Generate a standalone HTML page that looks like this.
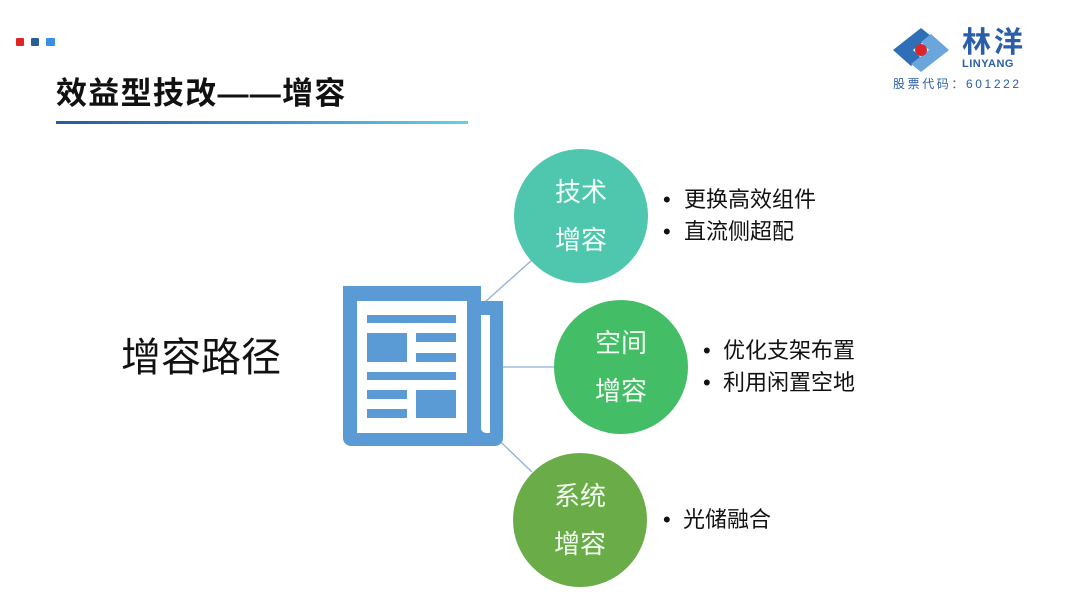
<!DOCTYPE html>
<html><head><meta charset="utf-8"><style>
html,body{margin:0;padding:0;background:#fff;}
body{width:1080px;height:608px;position:relative;overflow:hidden;font-family:"Liberation Sans","Noto Sans CJK SC",sans-serif;}
.a{position:absolute;white-space:nowrap;}
</style></head><body>
<div class="a" style="left:16px;top:38px;width:8px;height:8px;background:#e02424;border-radius:1px"></div>
<div class="a" style="left:31px;top:38px;width:8px;height:8px;background:#2a5f96;border-radius:1px"></div>
<div class="a" style="left:46px;top:38px;width:9px;height:8px;background:#3a8ee6;border-radius:1px"></div>
<div class="a" style="left:56px;top:68px;font-size:31px;font-weight:bold;color:#111;letter-spacing:1.3px">效益型技改——增容</div>
<div class="a" style="left:56px;top:121px;width:412px;height:3px;background:linear-gradient(90deg,#2a5a98,#3a8fd8 50%,#62d2e2)"></div>

<svg class="a" style="left:0;top:0" width="1080" height="608">
  <g transform="translate(921,50)">
    <path d="M-28,0 L0,-22 L10,-14 L-8,0 L0,8 L-10,16 Z" fill="#2f6fb8"/>
    <path d="M28,0 L0,22 L-10,14 L8,0 L0,-8 L10,-16 Z" fill="#6aa6dc"/>
    <circle cx="0" cy="0" r="6" fill="#d9262b"/>
  </g>
  <line x1="485" y1="302" x2="532" y2="260" stroke="#8fb0d8" stroke-width="1.3"/>
  <line x1="503" y1="367" x2="556" y2="367" stroke="#8fb0d8" stroke-width="1.3"/>
  <line x1="480" y1="422" x2="532" y2="472" stroke="#8fb0d8" stroke-width="1.3"/>
  <g fill="#5b9bd5">
    <path d="M343,286 H481 V301 H503 V438 a8,8 0 0 1 -8,8 H351 a8,8 0 0 1 -8,-8 Z"/>
  </g>
  <rect x="357" y="301" width="110" height="132" fill="#fff"/>
  <path d="M481,315 H490 V433 H486 a5,5 0 0 1 -5,-5 Z" fill="#fff"/>
  <g fill="#5b9bd5">
    <rect x="367" y="315" width="89" height="8"/>
    <rect x="367" y="333" width="40" height="29"/>
    <rect x="416" y="333" width="40" height="9"/>
    <rect x="416" y="353" width="40" height="9"/>
    <rect x="367" y="372" width="89" height="8"/>
    <rect x="367" y="390" width="40" height="9"/>
    <rect x="367" y="409" width="40" height="9"/>
    <rect x="416" y="390" width="40" height="28"/>
  </g>
  <circle cx="581" cy="216" r="67" fill="#4fc7ae"/>
  <circle cx="621" cy="367" r="67" fill="#43bd66"/>
  <circle cx="580" cy="520" r="67" fill="#6aac48"/>
  <g font-family="Liberation Sans,Noto Sans CJK SC,sans-serif" font-size="26" fill="#f4fff4" text-anchor="middle">
    <text x="581" y="201">技术</text>
    <text x="581" y="249">增容</text>
    <text x="621" y="352">空间</text>
    <text x="621" y="400">增容</text>
    <text x="580" y="505">系统</text>
    <text x="580" y="553">增容</text>
  </g>
  <g font-family="Liberation Sans,Noto Sans CJK SC,sans-serif" font-size="22" fill="#111">
    <text x="663" y="207">•</text><text x="684" y="207">更换高效组件</text>
    <text x="663" y="239">•</text><text x="684" y="239">直流侧超配</text>
    <text x="703" y="358">•</text><text x="723" y="358">优化支架布置</text>
    <text x="703" y="390">•</text><text x="723" y="390">利用闲置空地</text>
    <text x="663" y="527">•</text><text x="683" y="527">光储融合</text>
  </g>
</svg>

<div class="a" style="left:962px;top:26px;font-size:29px;font-weight:bold;color:#2a5ea8;letter-spacing:3px;line-height:34px">林洋</div>
<div class="a" style="left:962px;top:58px;font-size:11px;font-weight:bold;color:#2a5ea8;letter-spacing:0.5px">LINYANG</div>
<div class="a" style="left:893px;top:75px;font-size:12px;color:#2a5ea8;letter-spacing:2.6px">股票代码：601222</div>
<div class="a" style="left:121px;top:333px;font-size:40px;color:#111;line-height:50px">增容路径</div>
</body></html>
